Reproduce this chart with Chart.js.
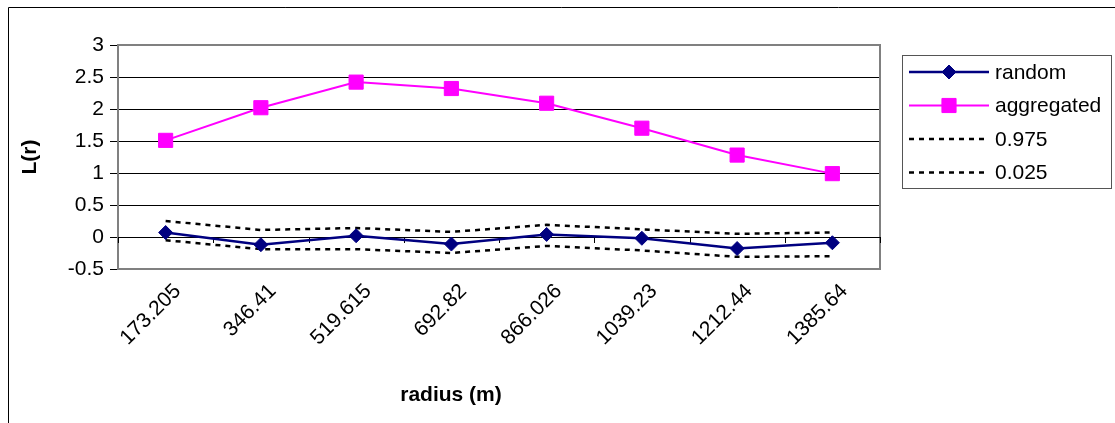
<!DOCTYPE html>
<html>
<head>
<meta charset="utf-8">
<script src="https://cdn.jsdelivr.net/npm/chart.js@4"></script>
<style>
  html, body { margin: 0; padding: 0; background: #fff; }
  canvas { display: block; }
</style>
</head>
<body>
<canvas id="myChart" width="1115" height="423"></canvas>
<script>
// values
const radius = ['173.205', '346.41', '519.615', '692.82', '866.026', '1039.23', '1212.44', '1385.64']
const random = [0.07, -0.12, 0.02, -0.11, 0.04, -0.02, -0.18, -0.09]
const aggregated = [1.51, 2.02, 2.42, 2.32, 2.09, 1.70, 1.28, 0.99]
const upper975 = [0.25, 0.11, 0.14, 0.08, 0.19, 0.12, 0.05, 0.07]
const lower025 = [-0.05, -0.19, -0.19, -0.25, -0.14, -0.21, -0.31, -0.30]
const yMin = -0.5
const yMax = 3
const yStep = 0.5

const FONT = '"Liberation Sans", Arial, sans-serif'
Chart.defaults.font.family = FONT
Chart.defaults.color = '#000'

// frame, plot border, zero axis ticks, x title and legend (Excel look)
const excelBits = {
  id: 'excelBits',
  beforeDatasetsDraw(chart) {
    const { ctx, chartArea: a, scales } = chart
    ctx.save()
    // plot area border
    ctx.strokeStyle = '#808080'
    ctx.lineWidth = 2
    ctx.strokeRect(a.left, a.top, a.right - a.left, a.bottom - a.top)
    // category axis sits at y = 0, tick marks between categories
    const y0 = scales.y.getPixelForValue(0)
    ctx.strokeStyle = '#000'
    ctx.lineWidth = 1
    ctx.beginPath()
    ctx.moveTo(a.left, Math.round(y0) + 0.5)
    ctx.lineTo(a.right + 1, Math.round(y0) + 0.5)
    for (let i = 0; i <= radius.length; i++) {
      const x = Math.round(a.left + (a.right - a.left) * i / radius.length) + 0.5
      ctx.moveTo(x, y0)
      ctx.lineTo(x, y0 + 6)
    }
    ctx.stroke()
    ctx.restore()
  },
  afterDraw(chart) {
    const { ctx, chartArea: a } = chart
    ctx.save()
    // outer chart frame
    ctx.strokeStyle = '#000'
    ctx.lineWidth = 1
    ctx.beginPath()
    ctx.moveTo(8.5, chart.height)
    ctx.lineTo(8.5, 7.5)
    ctx.lineTo(chart.width, 7.5)
    ctx.stroke()

    // x axis title
    ctx.fillStyle = '#000'
    ctx.font = 'bold 21px ' + FONT
    ctx.textAlign = 'center'
    ctx.textBaseline = 'middle'
    ctx.fillText('radius (m)', (a.left + a.right) / 2 - 48, 395)

    // legend
    const lx = a.right + 22
    const ly = a.top + 10
    ctx.strokeStyle = '#555'
    ctx.lineWidth = 1
    ctx.strokeRect(lx + 0.5, ly + 0.5, 209, 133)
    ctx.font = '21px ' + FONT
    ctx.textAlign = 'left'
    chart.data.datasets.forEach((ds, i) => {
      const ry = ly + 17 + i * 33.5
      ctx.save()
      ctx.strokeStyle = ds.borderColor
      ctx.lineWidth = ds.borderWidth
      ctx.setLineDash(ds.borderDash || [])
      ctx.beginPath()
      ctx.moveTo(lx + 7, ry)
      ctx.lineTo(lx + 87, ry)
      ctx.stroke()
      ctx.restore()
      if (ds.pointRadius > 0) {
        ctx.fillStyle = ds.pointBackgroundColor
        ctx.strokeStyle = ds.pointBackgroundColor
        Chart.helpers.drawPoint(ctx, { pointStyle: ds.pointStyle, radius: ds.pointRadius, borderWidth: 1 }, lx + 47, ry)
      }
      ctx.fillStyle = '#000'
      ctx.fillText(ds.label, lx + 93, ry + 1)
    })
    ctx.restore()
  }
}

const ctx = document.getElementById('myChart').getContext('2d')
const myChart = new Chart(ctx, {
  type: 'line',
  data: {
    labels: radius,
    datasets: [
      {
        label: 'random',
        data: random,
        borderColor: '#000080',
        backgroundColor: '#000080',
        pointBackgroundColor: '#000080',
        pointBorderColor: '#000080',
        borderWidth: 2.5,
        pointStyle: 'rectRot',
        pointRadius: 7,
        pointBorderWidth: 1,
      },
      {
        label: 'aggregated',
        data: aggregated,
        borderColor: '#ff00ff',
        backgroundColor: '#ff00ff',
        pointBackgroundColor: '#ff00ff',
        pointBorderColor: '#ff00ff',
        borderWidth: 2,
        pointStyle: 'rect',
        pointRadius: 10,
        pointBorderWidth: 1,
      },
      {
        label: '0.975',
        data: upper975,
        borderColor: '#000',
        borderWidth: 2.5,
        borderDash: [5, 5],
        pointRadius: 0,
      },
      {
        label: '0.025',
        data: lower025,
        borderColor: '#000',
        borderWidth: 2.5,
        borderDash: [5, 5],
        pointRadius: 0,
      },
    ],
  },
  options: {
    responsive: false,
    devicePixelRatio: 1,
    animation: false,
    layout: { padding: { top: 45, right: 235, left: 10, bottom: 0 } },
    plugins: {
      legend: { display: false },
      tooltip: { enabled: false },
    },
    elements: { line: { tension: 0 } },
    scales: {
      x: {
        offset: true,
        grid: { display: false },
        border: { display: false },
        ticks: {
          minRotation: 45,
          maxRotation: 45,
          padding: 2,
          labelOffset: 12,
          font: { size: 21 },
          color: '#000',
        },
        afterFit: (scale) => { scale.height = 154 },
      },
      y: {
        min: yMin,
        max: yMax,
        ticks: {
          stepSize: yStep,
          padding: 6,
          font: { size: 21 },
          color: '#000',
          callback: (v) => String(v),
        },
        grid: { color: '#000', lineWidth: 1, tickLength: 8 },
        border: { display: false },
        title: {
          display: true,
          text: 'L(r)',
          font: { size: 21, weight: 'bold' },
          color: '#000',
          padding: { top: 8, bottom: 0 },
        },
        afterFit: (scale) => { scale.width = 108 },
      },
    },
  },
  plugins: [excelBits],
})
</script>
</body>
</html>
